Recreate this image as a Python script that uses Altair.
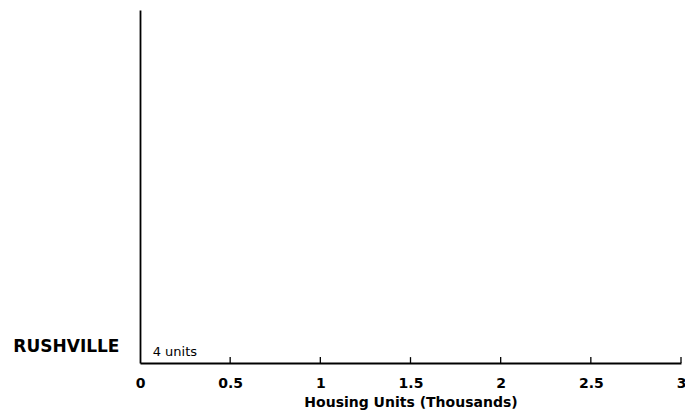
import altair as alt
import pandas as pd

places = ["RUSHVILLE"]
units_thousands = [0.004]
unit_labels = ["4 units"]
row_pos = [1]
tick_values = [0, 0.5, 1, 1.5, 2, 2.5, 3]
tick_labels = ["0", "0.5", "1", "1.5", "2", "2.5", "3"]

df = pd.DataFrame({"place": places, "units": units_thousands,
                   "label": unit_labels, "pos": row_pos})
ticks = pd.DataFrame({"t": tick_values[1:], "y0": [0] * 6, "y1": [0.45] * 6})

FONT = "DejaVu Sans"
xs = alt.Scale(domain=[0, 3], nice=False, zero=True, padding=0)
ys = alt.Scale(domain=[0, 27], nice=False, padding=0)

label_expr = " : ".join(
    [f"datum.value == {p} ? '{n}'" for p, n in zip(row_pos, places)]) + " : ''"
xlabel_expr = " : ".join(
    [f"datum.value == {v} ? '{l}'" for v, l in zip(tick_values, tick_labels)]) + " : ''"

bars = alt.Chart(df).mark_bar(color="black", size=8, orient="horizontal").encode(
    x=alt.X("units:Q", scale=xs,
            axis=alt.Axis(title="Housing Units (Thousands)", values=tick_values,
                          labelExpr=xlabel_expr, tickSize=0, grid=False,
                          labelFlush=False, labelOverlap=False,
                          domainColor="black", domainWidth=1.8,
                          labelFont=FONT, labelFontWeight="bold", labelFontSize=14,
                          labelColor="black", labelPadding=13,
                          titleFont=FONT, titleFontWeight="bold", titleFontSize=14,
                          titleColor="black", titlePadding=5)),
    y=alt.Y("pos:Q", scale=ys,
            axis=alt.Axis(title=None, values=row_pos, labelExpr=label_expr,
                          tickSize=0, grid=False, domainColor="black", domainWidth=1.8,
                          labelFont=FONT, labelFontWeight="bold", labelFontSize=17,
                          labelColor="black", labelPadding=21, labelOffset=-3)),
)

text = alt.Chart(df).mark_text(align="left", baseline="middle", dx=12, dy=2,
                               font=FONT, fontSize=13, color="black").encode(
    x=alt.X("units:Q", scale=xs), y=alt.Y("pos:Q", scale=ys), text="label:N")

tick_marks = alt.Chart(ticks).mark_rule(color="black", strokeWidth=1.3).encode(
    x=alt.X("t:Q", scale=xs), y=alt.Y("y0:Q", scale=ys), y2="y1:Q")

chart = alt.layer(bars, tick_marks, text).properties(
    width=541, height=353,
    autosize=alt.AutoSizeParams(type="none"),
    padding={"left": 132, "top": 2, "right": 4, "bottom": 56},
).configure(background="white").configure_view(stroke=None)

chart.save("out.html", embed_options={"renderer": "svg", "actions": False})
